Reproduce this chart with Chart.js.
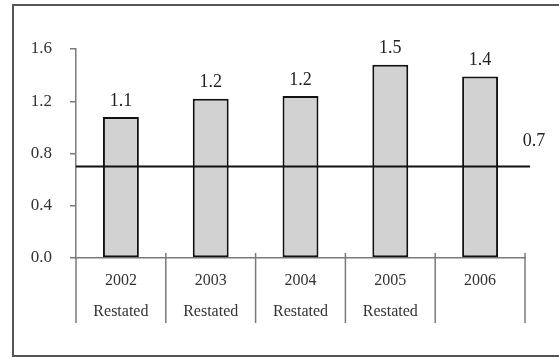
<!DOCTYPE html>
<html>
<head>
<meta charset="utf-8">
<script src="https://cdn.jsdelivr.net/npm/chart.js@4/dist/chart.umd.min.js"></script>
<style>
  html, body { margin: 0; padding: 0; background: #fff; }
  #wrap { position: relative; width: 559px; height: 360px; }
</style>
</head>
<body>
<div id="wrap"><canvas id="chart" width="559" height="360"></canvas></div>
<script>
var years = ["2002", "2003", "2004", "2005", "2006"];
var notes = ["Restated", "Restated", "Restated", "Restated", ""];
var values = [1.08, 1.22, 1.24, 1.48, 1.39];
var reference = 0.7;
var yTicks = [0, 0.4, 0.8, 1.2, 1.6];

var FONT = "'Liberation Serif', 'Times New Roman', serif";
var AXIS = "#7a7a7a";

var labels = years.map(function (y, i) {
  return notes[i] ? [y, notes[i]] : [y];
});

// frame, category separators, reference line and value labels
var decorations = {
  id: "decorations",
  beforeDraw: function (chart) {
    var ctx = chart.ctx;
    ctx.save();
    ctx.strokeStyle = "#555";
    ctx.lineWidth = 2;
    ctx.beginPath();
    ctx.moveTo(chart.width, 5);
    ctx.lineTo(13, 5);
    ctx.lineTo(13, 356);
    ctx.lineTo(chart.width, 356);
    ctx.stroke();
    ctx.restore();
  },
  afterDraw: function (chart) {
    var ctx = chart.ctx;
    var x = chart.scales.x;
    var y = chart.scales.y;
    var area = chart.chartArea;
    var step = (x.getPixelForValue(1) - x.getPixelForValue(0));

    ctx.save();
    ctx.strokeStyle = AXIS;
    ctx.lineWidth = 1.5;
    for (var i = 0; i <= years.length; i++) {
      var bx = x.getPixelForValue(0) - step / 2 + i * step;
      ctx.beginPath();
      ctx.moveTo(bx, area.bottom - (i === 0 ? 0 : 5));
      ctx.lineTo(bx, area.bottom + 65);
      ctx.stroke();
    }

    var ry = y.getPixelForValue(reference);
    ctx.strokeStyle = "#111";
    ctx.lineWidth = 2;
    ctx.beginPath();
    ctx.moveTo(area.left, ry);
    ctx.lineTo(area.right + 5, ry);
    ctx.stroke();

    ctx.fillStyle = "#222";
    ctx.font = "18px " + FONT;
    ctx.textAlign = "center";
    ctx.textBaseline = "middle";
    ctx.fillText(reference.toFixed(1), area.right + 9, ry - 25);

    var meta = chart.getDatasetMeta(0);
    meta.data.forEach(function (bar, i) {
      ctx.fillText(values[i].toFixed(1), bar.x, bar.y - 16);
    });
    ctx.restore();
  }
};

new Chart(document.getElementById("chart"), {
  type: "bar",
  data: {
    labels: labels,
    datasets: [{
      data: values,
      backgroundColor: "#d2d2d2",
      borderColor: "#111",
      borderWidth: 2,
      borderSkipped: false,
      barPercentage: 0.4,
      categoryPercentage: 1
    }]
  },
  options: {
    responsive: false,
    animation: false,
    devicePixelRatio: 1,
    layout: { padding: { left: 12, right: 34, top: 49, bottom: 0 } },
    plugins: { legend: { display: false }, tooltip: { enabled: false } },
    scales: {
      x: {
        grid: { display: false },
        border: { display: true, color: AXIS, width: 1.5 },
        ticks: {
          color: "#333",
          font: { family: FONT, size: 16, lineHeight: 31 / 16 },
          maxRotation: 0,
          padding: -1
        },
        afterFit: function (s) { s.height = 102; }
      },
      y: {
        min: 0,
        max: 1.6,
        afterBuildTicks: function (s) {
          s.ticks = yTicks.map(function (v) { return { value: v }; });
        },
        grid: { drawOnChartArea: false, color: AXIS, lineWidth: 1.5, tickLength: 6 },
        border: { display: true, color: AXIS, width: 1.5 },
        ticks: {
          color: "#333",
          font: { family: FONT, size: 17 },
          padding: 18,
          callback: function (v) { return Number(v).toFixed(1); }
        },
        afterFit: function (s) { s.width = 64; }
      }
    }
  },
  plugins: [decorations]
});
</script>
</body>
</html>
